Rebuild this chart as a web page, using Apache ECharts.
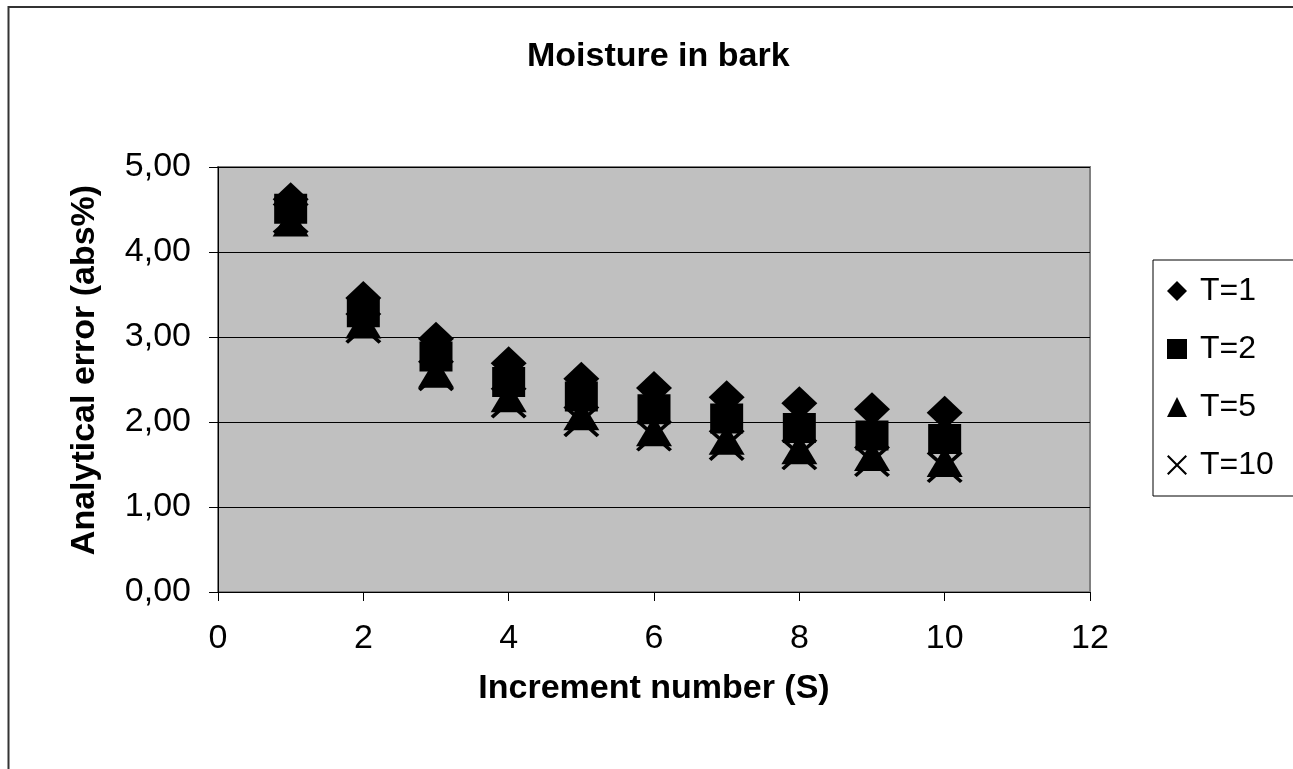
<!DOCTYPE html>
<html>
<head>
<meta charset="utf-8">
<title>Moisture in bark</title>
<script src="https://cdn.jsdelivr.net/npm/echarts@6/dist/echarts.min.js"></script>
<style>
  html, body { margin: 0; padding: 0; background: #fff; }
  #chart { width: 1293px; height: 769px; }
</style>
</head>
<body>
<div id="chart"></div>
<script>
// increment number S
const increments = [1, 2, 3, 4, 5, 6, 7, 8, 9, 10];

// analytical error (abs%) per T
const errT1  = [4.62, 3.46, 2.98, 2.69, 2.51, 2.40, 2.29, 2.22, 2.15, 2.11];
const errT2  = [4.51, 3.29, 2.77, 2.47, 2.30, 2.15, 2.04, 1.93, 1.84, 1.80];
const errT5  = [4.36, 3.16, 2.58, 2.29, 2.08, 1.89, 1.79, 1.68, 1.60, 1.53];
const errT10 = [4.40, 3.11, 2.55, 2.23, 2.01, 1.84, 1.73, 1.62, 1.54, 1.47];

const seriesNames = ["T=1", "T=2", "T=5", "T=10"];
const yTicks = [0, 1, 2, 3, 4, 5];

const FONT = "Liberation Sans, Arial, sans-serif";
const crossPath = "path://M0,1.5L1.5,0L10,8.5L18.5,0L20,1.5L11.5,10L20,18.5L18.5,20L10,11.5L1.5,20L0,18.5L8.5,10Z";

const toPoints = (vals) => vals.map((v, i) => [increments[i], v]);

const chart = echarts.init(document.getElementById("chart"), null, { renderer: "canvas" });

const makeSeries = (name, vals, symbol, size) => ({
    name: name,
    type: "scatter",
    data: toPoints(vals),
    symbol: symbol,
    symbolSize: size,
    itemStyle: { color: "#000", opacity: 1 },
    emphasis: { disabled: true },
    animation: false,
});

chart.setOption({
    backgroundColor: "#fff",
    animation: false,
    textStyle: { fontFamily: FONT },
    title: {
        text: "Moisture in bark",
        left: 522,
        top: 35,
        textStyle: { fontFamily: FONT, fontWeight: "bold", fontSize: 34, color: "#000" },
    },
    graphic: [{
        type: "rect",
        shape: { x: 8.5, y: 7, width: 1310, height: 800 },
        style: { fill: "none", stroke: "#333", lineWidth: 2 },
        silent: true,
        z: -1,
    }],
    grid: {
        left: 218, top: 167, right: 203, bottom: 177,
        show: true,
        backgroundColor: "#C0C0C0",
        borderColor: "#808080",
        borderWidth: 2,
    },
    legend: {
        orient: "vertical",
        left: 1153,
        top: 260,
        width: 120,
        padding: [15, 30, 15, 14],
        backgroundColor: "#fff",
        borderColor: "#000",
        borderWidth: 1,
        itemGap: 26,
        itemWidth: 20,
        itemHeight: 20,
        selectedMode: false,
        textStyle: { fontFamily: FONT, fontSize: 32, color: "#000", lineHeight: 32, padding: [0, 0, 0, 8] },
        data: [
            { name: seriesNames[0], icon: "diamond" },
            { name: seriesNames[1], icon: "rect" },
            { name: seriesNames[2], icon: "triangle" },
            { name: seriesNames[3], icon: crossPath },
        ],
    },
    xAxis: {
        type: "value",
        min: 0,
        max: 12,
        interval: 2,
        name: "Increment number (S)",
        nameLocation: "middle",
        nameGap: 80,
        nameTextStyle: { fontFamily: FONT, fontWeight: "bold", fontSize: 34, color: "#000" },
        axisLine: { show: true, onZero: false, lineStyle: { color: "#000", width: 1 } },
        axisTick: { show: true, length: 9, inside: false, lineStyle: { color: "#000" } },
        axisLabel: { fontFamily: FONT, fontSize: 34, color: "#000", margin: 30 },
        splitLine: { show: false },
    },
    yAxis: {
        type: "value",
        min: yTicks[0],
        max: yTicks[yTicks.length - 1],
        interval: 1,
        name: "Analytical error (abs%)",
        nameLocation: "middle",
        nameGap: 116,
        nameTextStyle: { fontFamily: FONT, fontWeight: "bold", fontSize: 34, color: "#000", padding: [0, 0, 0, 19] },
        axisLine: { show: true, onZero: false, lineStyle: { color: "#000", width: 1 } },
        axisTick: { show: true, length: 9, inside: false, lineStyle: { color: "#000" } },
        axisLabel: {
            fontFamily: FONT, fontSize: 34, color: "#000", margin: 27,
            formatter: (v) => v.toFixed(2).replace(".", ","),
        },
        splitLine: { show: true, lineStyle: { color: "#000", width: 1 } },
    },
    series: [
        makeSeries(seriesNames[0], errT1, "diamond", [36, 34]),
        makeSeries(seriesNames[1], errT2, "rect", [33, 30]),
        makeSeries(seriesNames[2], errT5, "triangle", [36, 30]),
        makeSeries(seriesNames[3], errT10, crossPath, [36, 32]),
    ],
});

window.onresize = function () {
    chart.resize();
};
</script>
</body>
</html>
